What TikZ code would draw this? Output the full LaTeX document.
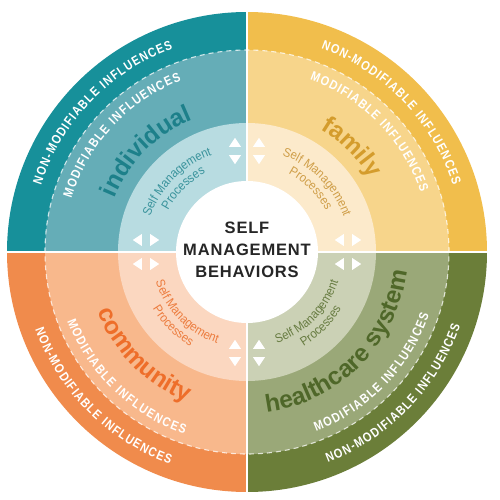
\documentclass[tikz,border=0pt]{standalone}
\usepackage{fontspec}
\setmainfont{Liberation Sans}
\newfontfamily\ringfont[FakeStretch=0.84]{Liberation Sans}
\newfontfamily\smpfont[FakeStretch=0.92]{Liberation Sans}
\newfontfamily\ctrfont[LetterSpace=5]{Liberation Sans}
\usetikzlibrary{decorations.text}
\definecolor{tealO}{HTML}{17909A}
\definecolor{tealM}{HTML}{65ADB7}
\definecolor{tealI}{HTML}{B8DCE1}
\definecolor{tealT}{HTML}{1D808A}
\definecolor{tealS}{HTML}{3A939C}
\definecolor{yelO}{HTML}{F1BE4C}
\definecolor{yelM}{HTML}{F7D58B}
\definecolor{yelI}{HTML}{FCEACB}
\definecolor{yelT}{HTML}{D49C2C}
\definecolor{yelS}{HTML}{CF9E48}
\definecolor{oraO}{HTML}{F08B4C}
\definecolor{oraM}{HTML}{F8B88C}
\definecolor{oraI}{HTML}{FBD7C0}
\definecolor{oraT}{HTML}{EE6E2A}
\definecolor{oraS}{HTML}{EC7C3E}
\definecolor{grnO}{HTML}{6B7E39}
\definecolor{grnM}{HTML}{9AA878}
\definecolor{grnI}{HTML}{CBD1B5}
\definecolor{grnT}{HTML}{4F6729}
\definecolor{grnS}{HTML}{687C42}
\definecolor{ctr}{HTML}{262626}
\tikzset{
  ringtext/.style={decorate, decoration={text along path, text align=fit to path,
     text color=white, text={|\ringfont\bfseries\fontsize{13}{15}\selectfont|#1}}},
  nametext/.style 2 args={decorate, decoration={text along path, text align=center,
     text color=#1, text={|\bfseries\fontsize{24.5}{28}\selectfont|#2}}},
  smptext/.style 2 args={decorate, decoration={text along path, text align=center,
     text color=#1, text={|\smpfont\fontsize{12.5}{14}\selectfont|#2}}},
  ctrtext/.style={font=\ctrfont\bfseries\fontsize{16.5}{22}\selectfont, align=center, text=ctr}
}
\begin{document}
\begin{tikzpicture}[x=1pt,y=1pt]
\useasboundingbox (-247,-248) rectangle (253,252);
% quadrant sectors
\foreach \a/\co/\cm/\ci in {90/tealO/tealM/tealI, 0/yelO/yelM/yelI, 180/oraO/oraM/oraI, 270/grnO/grnM/grnI}{
  \fill[\co] (0,0) -- (\a:240) arc[start angle=\a, end angle=\a+90, radius=240] -- cycle;
  \fill[\cm] (0,0) -- (\a:202) arc[start angle=\a, end angle=\a+90, radius=202] -- cycle;
  \fill[\ci] (0,0) -- (\a:129) arc[start angle=\a, end angle=\a+90, radius=129] -- cycle;
}
\draw[white, opacity=0.75, line width=1.1pt, dash pattern=on 5pt off 4pt] (0,0) circle[radius=202];
\fill[white] (0,0) circle[radius=71];
\draw[white, line width=2pt] (-242,0) -- (242,0);
\draw[white, line width=2pt] (0,-242) -- (0,242);
% triangles
\foreach \t in {0,90,180,270}{
  \foreach \s in {-12,12}{
    \fill[white, rotate=\t] (114.2,\s) -- (105.2,\s+6) -- (105.2,\s-6) -- cycle;
    \fill[white, rotate=\t] (87.8,\s) -- (96.8,\s+6) -- (96.8,\s-6) -- cycle;
  }
}
% outer ring texts
\path[ringtext={NON-MODIFIABLE INFLUENCES}] (162:216.5) arc[start angle=162, end angle=110, radius=216.5];
\path[ringtext={NON-MODIFIABLE INFLUENCES}] (70:216.5) arc[start angle=70, end angle=18, radius=216.5];
\path[ringtext={NON-MODIFIABLE INFLUENCES}] (200:225.5) arc[start angle=200, end angle=250, radius=225.5];
\path[ringtext={NON-MODIFIABLE INFLUENCES}] (291:225.5) arc[start angle=291, end angle=341, radius=225.5];
% middle ring texts
\path[ringtext={MODIFIABLE INFLUENCES}] (163:183.5) arc[start angle=163, end angle=111, radius=183.5];
\path[ringtext={MODIFIABLE INFLUENCES}] (70:183.5) arc[start angle=70, end angle=19, radius=183.5];
\path[ringtext={MODIFIABLE INFLUENCES}] (201:192.5) arc[start angle=201, end angle=251, radius=192.5];
\path[ringtext={MODIFIABLE INFLUENCES}] (291:192.5) arc[start angle=291, end angle=341, radius=192.5];
% names
\path[nametext={tealT}{individual}] (180:143) arc[start angle=180, end angle=90, radius=143];
\path[nametext={yelT}{family}] (90:143) arc[start angle=90, end angle=0, radius=143];
\path[nametext={oraT}{community}] (180:161) arc[start angle=180, end angle=270, radius=161];
\path[nametext={grnT}{healthcare system}] (270:161) arc[start angle=270, end angle=360, radius=161];
% self management processes
\path[smptext={tealS}{Self Management}] (180:103) arc[start angle=180, end angle=90, radius=103];
\path[smptext={tealS}{Processes}] (180:89) arc[start angle=180, end angle=90, radius=89];
\path[smptext={yelS}{Self Management}] (90:103) arc[start angle=90, end angle=0, radius=103];
\path[smptext={yelS}{Processes}] (90:89) arc[start angle=90, end angle=0, radius=89];
\path[smptext={oraS}{Self Management}] (180:96) arc[start angle=180, end angle=270, radius=96];
\path[smptext={oraS}{Processes}] (180:110) arc[start angle=180, end angle=270, radius=110];
\path[smptext={grnS}{Self Management}] (270:96) arc[start angle=270, end angle=360, radius=96];
\path[smptext={grnS}{Processes}] (270:110) arc[start angle=270, end angle=360, radius=110];
% centre
\node[ctrtext] (smb) at (0,2) {SELF\\MANAGEMENT\\BEHAVIORS};
\end{tikzpicture}
\end{document}
